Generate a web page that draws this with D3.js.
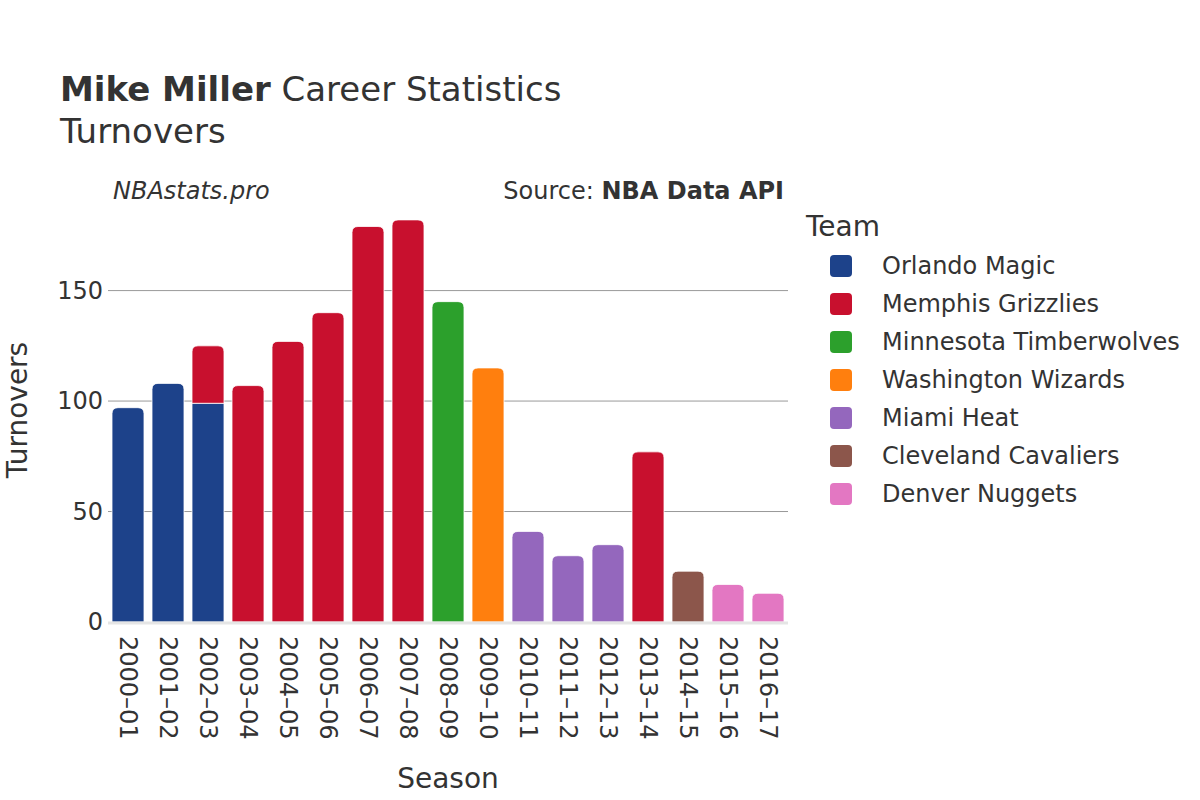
<!DOCTYPE html>
<html><head><meta charset="utf-8">
<script src="https://cdn.jsdelivr.net/npm/d3@7"></script>
<style>body{margin:0;background:#fff;font-family:"DejaVu Sans",sans-serif;}</style>
</head><body>
<svg id="chart" width="1200" height="800"></svg>
<script>
const seasons = ["2000–01","2001–02","2002–03","2003–04","2004–05","2005–06","2006–07","2007–08","2008–09","2009–10","2010–11","2011–12","2012–13","2013–14","2014–15","2015–16","2016–17"];
const teams = ["Orlando Magic","Memphis Grizzlies","Minnesota Timberwolves","Washington Wizards","Miami Heat","Cleveland Cavaliers","Denver Nuggets"];
const teamColors = ["#1d428a","#c8102e","#2ca02c","#ff7f0e","#9467bd","#8c564b","#e377c2"];
// per-season segments: season, team, turnovers
const segSeason = ["2000–01","2001–02","2002–03","2002–03","2003–04","2004–05","2005–06","2006–07","2007–08","2008–09","2009–10","2010–11","2011–12","2012–13","2013–14","2014–15","2015–16","2016–17"];
const segTeam = ["Orlando Magic","Orlando Magic","Orlando Magic","Memphis Grizzlies","Memphis Grizzlies","Memphis Grizzlies","Memphis Grizzlies","Memphis Grizzlies","Memphis Grizzlies","Minnesota Timberwolves","Washington Wizards","Miami Heat","Miami Heat","Miami Heat","Memphis Grizzlies","Cleveland Cavaliers","Denver Nuggets","Denver Nuggets"];
const segValue = [97,108,99,26,107,127,140,179,182,145,115,41,30,35,77,23,17,13];
const yTicks = [0,50,100,150];

const svg = d3.select("#chart");
const mLeft = 108, mRight = 788, mTop = 200, mBottom = 622;
const x = d3.scaleBand().domain(seasons).range([mLeft, mRight]).paddingInner(0.2).paddingOuter(0.1);
const y = d3.scaleLinear().domain([0, 191]).range([mBottom, mTop]);
const color = d3.scaleOrdinal().domain(teams).range(teamColors);

// gridlines
svg.append("g").selectAll("line").data(yTicks.filter(d=>d>0)).join("line")
  .attr("x1", mLeft).attr("x2", mRight).attr("y1", d=>y(d)).attr("y2", d=>y(d))
  .attr("stroke", "#999").attr("stroke-width", 1);

// y axis
const yAxis = svg.append("g").attr("transform", `translate(${mLeft},0)`)
  .call(d3.axisLeft(y).tickValues(yTicks).tickSize(0).tickPadding(5));
yAxis.select(".domain").remove();
yAxis.selectAll("text").attr("font-size", 24).attr("fill", "#333").attr("font-family", "DejaVu Sans");

// stacked segments
const segs = [];
const acc = {};
segSeason.forEach((s,i)=>{
  const y0 = acc[s] || 0;
  const y1 = y0 + segValue[i];
  acc[s] = y1;
  segs.push({season:s, team:segTeam[i], y0, y1});
});
const totals = acc;
const r = 6;
function barPath(d){
  const x0 = x(d.season), w = x.bandwidth();
  const yt = y(d.y1), yb = y(d.y0);
  const isTop = Math.abs(d.y1 - totals[d.season]) < 1e-9;
  if(!isTop){
    return `M${x0},${yb}V${yt}H${x0+w}V${yb}Z`;
  }
  const rr = Math.min(r, (yb-yt));
  return `M${x0},${yb}V${yt+rr}Q${x0},${yt} ${x0+rr},${yt}H${x0+w-rr}Q${x0+w},${yt} ${x0+w},${yt+rr}V${yb}Z`;
}
svg.append("g").selectAll("path").data(segs).join("path")
  .attr("d", barPath).attr("fill", d=>color(d.team))
  .attr("stroke", "#fff").attr("stroke-width", 0.8);

// zero line
svg.append("line").attr("x1", mLeft).attr("x2", mRight).attr("y1", y(0)+1).attr("y2", y(0)+1)
  .attr("stroke", "#e5e5e5").attr("stroke-width", 3);

// x axis
const xAxis = svg.append("g").attr("transform", `translate(0,${mBottom})`)
  .call(d3.axisBottom(x).tickSize(0).tickPadding(0));
xAxis.select(".domain").remove();
xAxis.selectAll("text").attr("font-size", 24).attr("fill", "#333").attr("font-family", "DejaVu Sans")
  .attr("transform", "rotate(90)").attr("text-anchor", "start")
  .attr("x", 14).attr("y", 0).attr("dy", "0.35em");

// titles
const t = svg.append("text").attr("x", 60).attr("y", 101).attr("font-size", 34).attr("fill", "#333");
t.append("tspan").attr("font-weight", "bold").text("Mike Miller");
t.append("tspan").text(" Career Statistics");
svg.append("text").attr("x", 60).attr("y", 143).attr("font-size", 34).attr("fill", "#333").text("Turnovers");
svg.append("text").attr("x", 113).attr("y", 199).attr("font-size", 24).attr("font-style", "italic").attr("fill", "#333").text("NBAstats.pro");
const src = svg.append("text").attr("x", 784).attr("y", 199).attr("font-size", 24).attr("text-anchor", "end").attr("fill", "#333");
src.append("tspan").text("Source: ");
src.append("tspan").attr("font-weight", "bold").text("NBA Data API");

// axis titles
svg.append("text").attr("x", 448).attr("y", 788).attr("font-size", 28).attr("text-anchor", "middle").attr("fill", "#333").text("Season");
svg.append("text").attr("transform", "translate(27,410) rotate(-90)").attr("font-size", 28).attr("text-anchor", "middle").attr("fill", "#333").text("Turnovers");

// legend
svg.append("text").attr("x", 806).attr("y", 236).attr("font-size", 28).attr("fill", "#333").text("Team");
const lg = svg.append("g").selectAll("g").data(teams).join("g")
  .attr("transform", (d,i)=>`translate(830,${266 + i*38})`);
lg.append("rect").attr("x", 0).attr("y", -11).attr("width", 22).attr("height", 22).attr("rx", 4)
  .attr("fill", d=>color(d));
lg.append("text").attr("x", 52).attr("y", 0).attr("dy", "0.35em").attr("font-size", 24).attr("fill", "#333").text(d=>d);
</script>
</body></html>
